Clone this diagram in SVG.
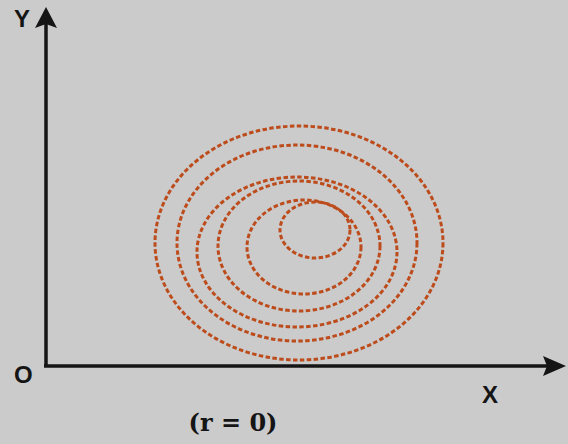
<svg xmlns="http://www.w3.org/2000/svg" width="568" height="444" viewBox="0 0 568 444">
<style>
.ring{fill:none;stroke:#bd4c1c;stroke-width:3;stroke-dasharray:4.5 2.4}
.axis{stroke:#151515;stroke-width:3.5;fill:none}
.lbl{font-family:"Liberation Sans",Arial,sans-serif;font-weight:bold;font-size:24px;fill:#151515}
.cap{font-family:"DejaVu Serif","Liberation Serif",serif;font-weight:bold;font-size:24px;fill:#151515}
</style>
<rect width="568" height="444" fill="#cbcbcb"/>
<g id="axes">
<path class="axis" d="M46,366 V24"/>
<path d="M46,7 L35,28 L46,24 L57,28 z" fill="#151515"/>
<path class="axis" d="M44,366 H548"/>
<path d="M566,366 L543,356 L547,366 L543,376 z" fill="#151515"/>
</g>
<g id="spiral">
<ellipse class="ring" cx="299" cy="243" rx="144" ry="117"/>
<ellipse class="ring" cx="297" cy="243" rx="120" ry="98"/>
<ellipse class="ring" cx="297" cy="252" rx="100" ry="75"/>
<ellipse class="ring" cx="299" cy="246" rx="81" ry="65"/>
<ellipse class="ring" cx="304" cy="247" rx="57" ry="47"/>
<ellipse class="ring" cx="315" cy="230" rx="35" ry="28"/>
</g>
<g id="labels">
<text class="lbl" x="14" y="27">Y</text>
<text class="lbl" x="14" y="383" font-size="21">O</text>
<text class="lbl" x="482" y="403">X</text>
<text class="cap" x="233" y="431" text-anchor="middle">(r = 0)</text>
</g>
</svg>
